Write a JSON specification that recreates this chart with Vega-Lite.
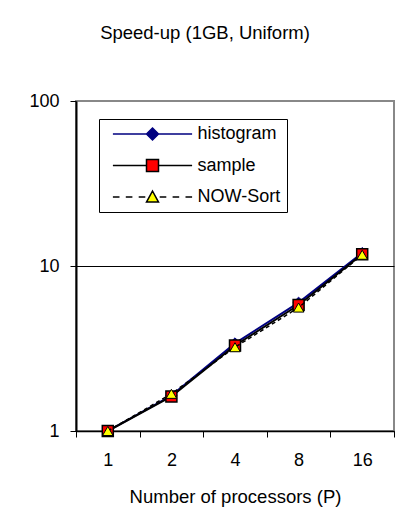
{
  "$schema": "https://vega.github.io/schema/vega-lite/v6.json",
  "width": 318,
  "height": 330,
  "autosize": {"type": "none"},
  "padding": {"left": 76, "top": 101, "right": 11, "bottom": 99},
  "background": "white",
  "title": {
    "text": "Speed-up (1GB, Uniform)",
    "anchor": "middle",
    "frame": "group",
    "dx": -30,
    "offset": 50,
    "fontSize": 18.5,
    "fontWeight": "normal",
    "font": "Liberation Sans",
    "color": "#000"
  },
  "data": {
    "values": [
      {"P": "1", "series": "histogram", "speedup": 1},
      {"P": "2", "series": "histogram", "speedup": 1.64},
      {"P": "4", "series": "histogram", "speedup": 3.4},
      {"P": "8", "series": "histogram", "speedup": 6.0},
      {"P": "16", "series": "histogram", "speedup": 12.0},
      {"P": "1", "series": "sample", "speedup": 1},
      {"P": "2", "series": "sample", "speedup": 1.62},
      {"P": "4", "series": "sample", "speedup": 3.3},
      {"P": "8", "series": "sample", "speedup": 5.8},
      {"P": "16", "series": "sample", "speedup": 11.8},
      {"P": "1", "series": "NOW-Sort", "speedup": 1},
      {"P": "2", "series": "NOW-Sort", "speedup": 1.68},
      {"P": "4", "series": "NOW-Sort", "speedup": 3.22},
      {"P": "8", "series": "NOW-Sort", "speedup": 5.6},
      {"P": "16", "series": "NOW-Sort", "speedup": 11.7}
    ]
  },
  "encoding": {
    "x": {
      "field": "P",
      "type": "ordinal",
      "sort": ["1", "2", "4", "8", "16"],
      "scale": {"paddingInner": 0, "paddingOuter": 0},
      "axis": {
        "title": "Number of processors (P)",
        "labelAngle": 0,
        "tickBand": "extent",
        "tickSize": 6,
        "tickColor": "#000",
        "tickWidth": 1,
        "domainColor": "#000",
        "domainWidth": 1.5,
        "labelPadding": 14,
        "titlePadding": 18,
        "grid": false
      }
    },
    "y": {
      "field": "speedup",
      "type": "quantitative",
      "scale": {"type": "log", "domain": [1, 100], "nice": false},
      "axis": {
        "title": null,
        "values": [1, 10, 100],
        "format": "d",
        "tickSize": 6,
        "tickColor": "#000",
        "tickWidth": 1,
        "domainColor": "#000",
        "domainWidth": 2,
        "labelPadding": 11,
        "grid": true,
        "gridColor": {"condition": {"test": "datum.value === 100", "value": "transparent"}, "value": "#000"},
        "gridWidth": 1
      }
    }
  },
  "layer": [
    {
      "transform": [{"filter": "datum.series === 'histogram'"}],
      "mark": {"type": "line", "color": "#000080", "strokeWidth": 2}
    },
    {
      "transform": [{"filter": "datum.series === 'histogram'"}],
      "mark": {"type": "point", "shape": "diamond", "filled": true, "fill": "#000080", "stroke": "#000080", "strokeWidth": 1, "size": 120, "opacity": 1}
    },
    {
      "transform": [{"filter": "datum.series === 'sample'"}],
      "mark": {"type": "line", "color": "#000", "strokeWidth": 2}
    },
    {
      "transform": [{"filter": "datum.series === 'sample'"}],
      "mark": {"type": "point", "shape": "square", "filled": true, "fill": "#ff0000", "stroke": "#000", "strokeWidth": 1.5, "size": 121, "opacity": 1}
    },
    {
      "transform": [{"filter": "datum.series === 'NOW-Sort'"}],
      "mark": {"type": "line", "color": "#000", "strokeWidth": 1.5, "strokeDash": [4, 3]}
    },
    {
      "transform": [{"filter": "datum.series === 'NOW-Sort'"}],
      "mark": {"type": "point", "shape": "triangle-up", "filled": true, "fill": "#ffff00", "stroke": "#000", "strokeWidth": 1, "size": 110, "opacity": 1}
    },
    {
      "transform": [{"filter": "false"}],
      "mark": {"type": "point", "filled": true, "opacity": 1},
      "encoding": {
        "shape": {
          "field": "series",
          "type": "nominal",
          "scale": {
            "domain": ["histogram", "sample", "NOW-Sort"],
            "range": [
              "M-6.6,0H-1M1,0H6.6M0,-1L1,0L0,1L-1,0Z",
              "M-6.6,0H-1M1,0H6.6M-1,-1H1V1H-1Z",
              "M-6.6,0H-5.5M-4.45,0H-3.35M-2.3,0H-1.2M1.2,0H2.3M3.35,0H4.45M5.5,0H6.6M0,-1L1,0.85L-1,0.85Z"
            ]
          },
          "legend": {"orient": "none", "legendX": 23, "legendY": 18, "title": null}
        },
        "fill": {
          "field": "series",
          "type": "nominal",
          "scale": {"domain": ["histogram", "sample", "NOW-Sort"], "range": ["#000080", "#ff0000", "#ffff00"]},
          "legend": {"orient": "none", "legendX": 23, "legendY": 18, "title": null}
        },
        "stroke": {
          "field": "series",
          "type": "nominal",
          "scale": {"domain": ["histogram", "sample", "NOW-Sort"], "range": ["#000080", "#000", "#000"]},
          "legend": {"orient": "none", "legendX": 23, "legendY": 18, "title": null}
        }
      }
    }
  ],
  "config": {
    "font": "Liberation Sans",
    "view": {"stroke": "#888", "strokeWidth": 2},
    "axis": {
      "labelFont": "Liberation Sans",
      "labelFontSize": 18,
      "labelColor": "#000",
      "titleFont": "Liberation Sans",
      "titleFontSize": 18.5,
      "titleFontWeight": "normal",
      "titleColor": "#000"
    },
    "legend": {
      "padding": 6,
      "strokeColor": "#000",
      "fillColor": "#fff",
      "strokeWidth": 1,
      "symbolSize": 144,
      "symbolStrokeWidth": 1.5,
      "symbolOffset": 38.5,
      "labelOffset": 36,
      "labelFont": "Liberation Sans",
      "labelFontSize": 18,
      "labelColor": "#000",
      "rowPadding": 13.5
    }
  }
}
